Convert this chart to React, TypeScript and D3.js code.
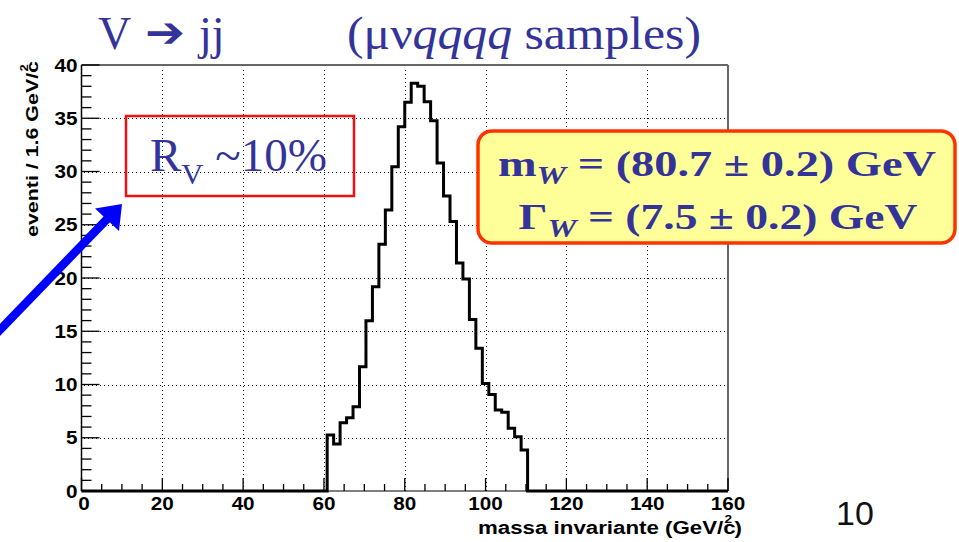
import React from "react";
import * as d3 from "d3";

// ---- data ----
const binLow = 60.8;
const binWidth = 1.6;
const counts = [
  5.26, 4.41, 6.41, 6.88, 7.92, 11.67, 15.99, 19.18, 23.16, 26.38, 30.45,
  34.2, 36.5, 38.28, 38.0, 36.55, 34.77, 30.8, 27.7, 25.3, 21.4, 19.9, 16.1,
  13.4, 10.1, 9.06, 7.6, 7.4, 5.9, 5.1, 3.85,
];
const xDomain = [0, 160];
const yDomain = [0, 40];
const xTicks = [0, 20, 40, 60, 80, 100, 120, 140, 160];
const yTicks = [0, 5, 10, 15, 20, 25, 30, 35, 40];
const xMinorStep = 5;
const yMinorStep = 1;

const W = 959;
const H = 542;
const BLUE = "#333399";

export default function App() {
  const x = d3.scaleLinear().domain(xDomain).range([81.5, 728]);
  const y = d3.scaleLinear().domain(yDomain).range([491, 65]);

  // full histogram including empty bins
  const nBins = Math.round((xDomain[1] - xDomain[0]) / binWidth);
  const startIdx = Math.round((binLow - xDomain[0]) / binWidth);
  const full: number[] = d3.range(nBins).map((i) => {
    const k = i - startIdx;
    return k >= 0 && k < counts.length ? counts[k] : 0;
  });
  const pts: [number, number][] = full.map((v, i) => [xDomain[0] + i * binWidth, v]);
  pts.push([xDomain[1], full[full.length - 1]]);
  const line = d3
    .line<[number, number]>()
    .x((d) => x(d[0]))
    .y((d) => y(d[1]))
    .curve(d3.curveStepAfter);

  const xMinor = d3.range(xDomain[0], xDomain[1] + 0.01, xMinorStep).filter((v) => v % 20 !== 0);
  const yMinor = d3.range(yDomain[0], yDomain[1] + 0.01, yMinorStep).filter((v) => v % 5 !== 0);

  const x0 = x(xDomain[0]);
  const x1 = x(xDomain[1]);
  const y0 = y(yDomain[0]);
  const y1 = y(yDomain[1]);
  const snap = (v: number) => Math.round(v) + 0.5;

  const lab = { fontFamily: "Liberation Sans, Arial, sans-serif", fontWeight: 700, fontSize: 17.5 };

  return (
    <svg
      width={W}
      height={H}
      viewBox={`0 0 ${W} ${H}`}
      style={{ position: "absolute", left: 0, top: 0, background: "#fff" }}
    >
      <rect x={0} y={0} width={W} height={H} fill="#fff" />

      {/* title */}
      <text x={98} y={49} fill={BLUE} fontFamily="Liberation Serif, serif" fontSize={46}>V</text>
      <text x={145} y={47} fill={BLUE} fontFamily="DejaVu Sans, sans-serif" fontWeight={700} fontSize={42}
        textLength={40} lengthAdjust="spacingAndGlyphs">➔</text>
      <text x={199} y={49} fill={BLUE} fontFamily="Liberation Serif, serif" fontSize={46}>jj</text>
      <text x={347} y={49} fill={BLUE} fontFamily="Liberation Serif, serif" fontSize={46}
        textLength={354} lengthAdjust="spacingAndGlyphs">
        (μν<tspan fontStyle="italic">qqqq</tspan> samples)
      </text>

      {/* grid */}
      <g stroke="#000" strokeWidth={1} strokeDasharray="1 3" shapeRendering="crispEdges">
        {xTicks.filter((t) => t > xDomain[0] && t < xDomain[1]).map((t) => (
          <line key={"gx" + t} x1={snap(x(t))} x2={snap(x(t))} y1={y0} y2={y1 + 2} />
        ))}
        {yTicks.filter((t) => t > yDomain[0] && t < yDomain[1]).map((t) => (
          <line key={"gy" + t} x1={x0 + 2} x2={x1} y1={snap(y(t))} y2={snap(y(t))} />
        ))}
      </g>

      {/* frame */}
      <line x1={x0} x2={x1} y1={y1} y2={y1} stroke="#333" strokeWidth={1.5} />
      <line x1={x1} x2={x1} y1={y1} y2={y0} stroke="#666" strokeWidth={2} />
      <line x1={x0} x2={x1} y1={y0} y2={y0} stroke="#000" strokeWidth={1.2} />
      <line x1={x0} x2={x0} y1={y1} y2={y0} stroke="#000" strokeWidth={1.5} />

      {/* ticks */}
      <g stroke="#000" strokeWidth={1.3}>
        {xTicks.map((t) => (
          <line key={"xt" + t} x1={x(t)} x2={x(t)} y1={y0} y2={y0 - 13} />
        ))}
        {xMinor.map((t) => (
          <line key={"xm" + t} x1={x(t)} x2={x(t)} y1={y0} y2={y0 - 7} />
        ))}
        {yTicks.map((t) => (
          <line key={"yt" + t} x1={x0} x2={x0 + 18} y1={y(t)} y2={y(t)} />
        ))}
        {yMinor.map((t) => (
          <line key={"ym" + t} x1={x0} x2={x0 + 10} y1={y(t)} y2={y(t)} />
        ))}
      </g>

      {/* histogram */}
      <path d={line(pts) || ""} fill="none" stroke="#000" strokeWidth={3} strokeLinejoin="miter" />

      {/* tick labels */}
      {xTicks.map((t) => (
        <text key={"xl" + t} x={x(t) + (t === 0 ? 2.5 : 0)} y={509.5} textAnchor="middle" {...lab}
          textLength={String(t).length * 11.5} lengthAdjust="spacingAndGlyphs">{t}</text>
      ))}
      {yTicks.map((t) => (
        <text key={"yl" + t} x={77.5} y={y(t) + 6.5} textAnchor="end" {...lab}
          textLength={String(t).length * 11.5} lengthAdjust="spacingAndGlyphs">{t}</text>
      ))}

      {/* axis titles */}
      <text transform="translate(37.5,237) rotate(-90)" {...lab} fontSize={16.5}
        textLength={176} lengthAdjust="spacingAndGlyphs">
        eventi / 1.6 GeV/c<tspan fontSize={10} dx={-8} dy={-10}>2</tspan>
      </text>
      <text x={478} y={534} {...lab} fontSize={18} textLength={264} lengthAdjust="spacingAndGlyphs">
        massa invariante (GeV/c<tspan fontSize={11} dx={-9} dy={-11}>2</tspan>
        <tspan dx={2} dy={11}>)</tspan>
      </text>

      {/* R_V box */}
      <rect x={126} y={116} width={228} height={80} fill="none" stroke="#ee1111" strokeWidth={2.5} />
      <text x={150} y={171} fill={BLUE} fontFamily="Liberation Serif, serif" fontSize={46}
        textLength={177} lengthAdjust="spacingAndGlyphs">
        R<tspan fontSize={30} dy={13}>V</tspan>
        <tspan dy={-13}> ~10%</tspan>
      </text>

      {/* blue arrow */}
      <line x1={-4} y1={334} x2={110} y2={216} stroke="#0000ff" strokeWidth={8.5} />
      <path d="M122,204 L95,208.5 L119,231 Z" fill="#0000ff" />

      {/* result box */}
      <rect x={478} y={131} width={477} height={112} rx={14} ry={14} fill="#ffff99" stroke="#ff3300" strokeWidth={3.5} />
      <text x={717} y={176} textAnchor="middle" fill={BLUE} fontFamily="Liberation Serif, serif"
        fontWeight={700} fontSize={35} textLength={438} lengthAdjust="spacingAndGlyphs">
        m<tspan fontStyle="italic" fontSize={25} dy={8}>W</tspan>
        <tspan dy={-8}> = (80.7 ± 0.2) GeV</tspan>
      </text>
      <text x={718} y={229} textAnchor="middle" fill={BLUE} fontFamily="Liberation Serif, serif"
        fontWeight={700} fontSize={35} textLength={399} lengthAdjust="spacingAndGlyphs">
        Γ<tspan fontStyle="italic" fontSize={25} dy={8}>W</tspan>
        <tspan dy={-8}> = (7.5 ± 0.2) GeV</tspan>
      </text>

      {/* page number */}
      <text x={836} y={525} fill="#111" fontFamily="Liberation Sans, Arial, sans-serif" fontSize={34}>10</text>
    </svg>
  );
}
